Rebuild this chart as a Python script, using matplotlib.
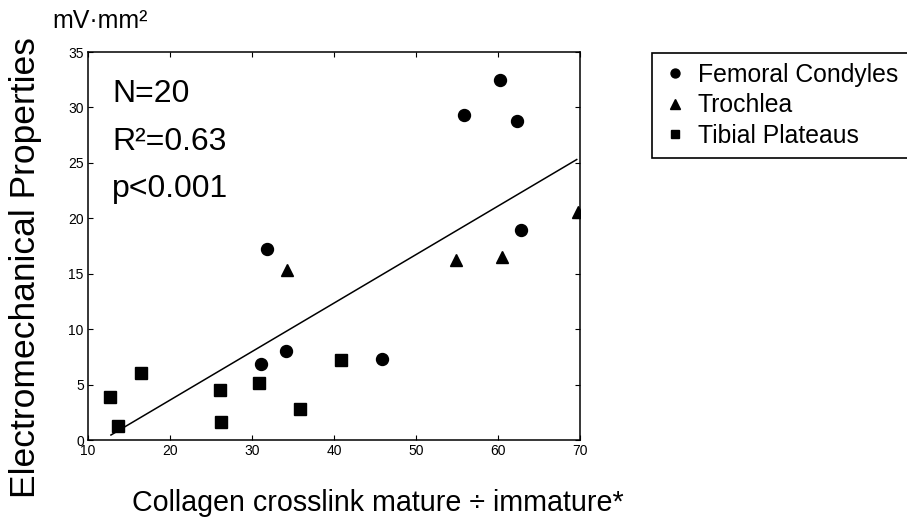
import matplotlib
matplotlib.use("Agg")
import matplotlib.pyplot as plt

plt.rcParams['font.family'] = ['Liberation Sans', 'DejaVu Sans']

# femoral condyles (circles)
fc_x = [31.8, 31.1, 34.2, 45.9, 55.8, 60.2, 62.3, 62.8]
fc_y = [17.2, 6.9, 8.0, 7.35, 29.3, 32.5, 28.8, 18.9]

# trochlea (triangles)
tr_x = [34.3, 54.9, 60.5, 69.7]
tr_y = [15.3, 16.2, 16.5, 20.6]

# tibial plateaus (squares)
tp_x = [12.7, 13.7, 16.5, 26.1, 26.2, 30.8, 35.9, 40.8]
tp_y = [3.9, 1.3, 6.06, 4.5, 1.65, 5.16, 2.8, 7.2]

# regression line end points
fit_x = [12.8, 69.6]
fit_y = [0.45, 25.3]

stats = ["N=20", "R\u00b2=0.63", "p<0.001"]

fig = plt.figure(figsize=(9.07, 5.27), dpi=100)
ax = fig.add_axes([88/907, 1-440/527, (580-88)/907, (440-52)/527])

ax.plot(fit_x, fit_y, color='black', lw=1.1)
ax.plot(fc_x, fc_y, 'o', color='black', ms=8.6, label='Femoral Condyles')
ax.plot(tr_x, tr_y, '^', color='black', ms=9.0, label='Trochlea')
ax.plot(tp_x, tp_y, 's', color='black', ms=8.0, label='Tibial Plateaus')

ax.set_xlim(10, 70)
ax.set_ylim(0, 35)
ax.set_xticks(range(10, 71, 10))
ax.set_yticks(range(0, 36, 5))
ax.tick_params(direction='in', top=True, right=True, length=3.5, width=0.8,
               labelsize=10, pad=3)
for s in ax.spines.values():
    s.set_linewidth(1.1)

# stats text block
for i, t in enumerate(stats):
    fig.text(112/907, 1-(102 + i*47.5)/527, t, fontsize=23, va='baseline', ha='left')

fig.text(52/907, 1-28/527, "mV\u00b7mm\u00b2", fontsize=18, va='baseline', ha='left')

fig.text(26/907, 1-268/527, "Electromechanical Properties", fontsize=25.5,
         rotation=90, va='center', ha='center')
fig.text(378/907, 1-503/527, "Collagen crosslink mature \u00f7 immature*", fontsize=20.6,
         va='center', ha='center')

handles, labels = ax.get_legend_handles_labels()
leg = fig.legend(handles, labels, loc='upper left', bbox_to_anchor=(652/907, 1-53/527),
                 borderaxespad=0, fontsize=17.8, fancybox=False, edgecolor='black',
                 framealpha=1, markerscale=0.75, handlelength=1.1, handletextpad=0.35,
                 labelspacing=0.26, borderpad=0.4)
leg.get_frame().set_linewidth(1.2)

fig.savefig("out.png", dpi=100)
